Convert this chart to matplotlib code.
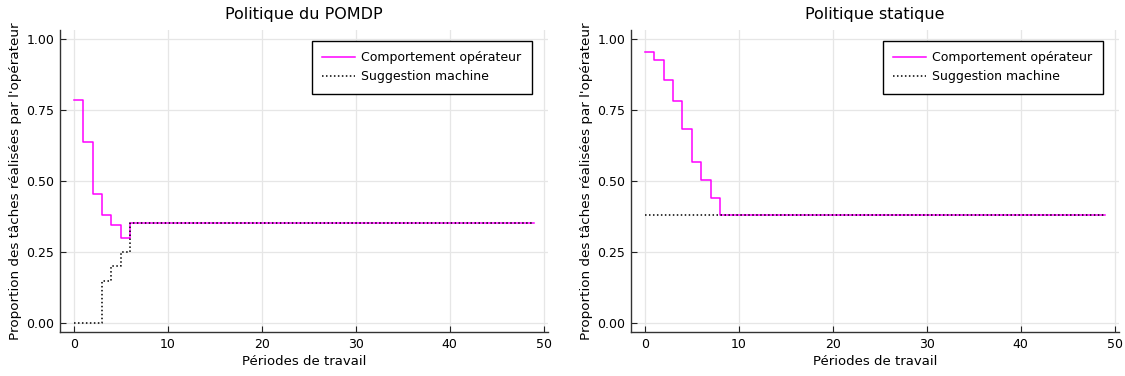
import numpy as np
import matplotlib
matplotlib.use("Agg")
from matplotlib import pyplot as plt

plt.rcParams['font.family'] = ['DejaVu Sans']

periods = np.arange(50)

# Politique du POMDP
pomdp_operateur = [0.786, 0.636, 0.453, 0.382, 0.347, 0.30] + [0.351] * 44
pomdp_machine = [0.0, 0.0, 0.0, 0.15, 0.20, 0.25] + [0.351] * 44

# Politique statique
stat_operateur = [0.952, 0.924, 0.853, 0.78, 0.682, 0.566, 0.503, 0.441] + [0.382] * 42
stat_machine = [0.382] * 50

titles = ['Politique du POMDP', 'Politique statique']
series = [(pomdp_operateur, pomdp_machine), (stat_operateur, stat_machine)]
yticks = [0.0, 0.25, 0.5, 0.75, 1.0]
xticks = [0, 10, 20, 30, 40, 50]

W, H = 1125, 376
fig = plt.figure(figsize=(W / 100, H / 100), dpi=100)
lefts = [60, 631]
ax_w, top, bottom = 488, 30, 332

for left, title, (op, mach) in zip(lefts, titles, series):
    ax = fig.add_axes([left / W, (H - bottom) / H, ax_w / W, (bottom - top) / H])
    ax.step(periods, op, where='post', color='#ff00ff', lw=1.1, label='Comportement opérateur')
    ax.step(periods, mach, where='post', color='black', lw=1.1, ls=(0, (1, 1.6)),
            label='Suggestion machine')
    ax.set_xlim(-1.47, 50.47)
    ax.set_ylim(-0.03, 1.03)
    ax.set_xticks(xticks)
    ax.set_yticks(yticks)
    ax.set_yticklabels([f'{v:.2f}' for v in yticks])
    ax.grid(True, color='#e6e6e6', lw=0.9)
    ax.set_axisbelow(True)
    for s in ['top', 'right']:
        ax.spines[s].set_visible(False)
    for s in ['left', 'bottom']:
        ax.spines[s].set_linewidth(1.0)
        ax.spines[s].set_color('#333333')
    ax.tick_params(direction='in', length=4, width=0.8, labelsize=9, colors='#222222',
                   labelcolor='black', pad=4)
    ax.set_title(title, fontsize=11.5, pad=8)
    ax.set_xlabel('Périodes de travail', fontsize=9.5, labelpad=3)
    ax.set_ylabel("Proportion des tâches réalisées par l'opérateur", fontsize=9.7, labelpad=3)
    leg = ax.legend(loc='upper right', bbox_to_anchor=(0.967, 0.964), borderaxespad=0,
                    fontsize=9, fancybox=False, framealpha=1, edgecolor='black',
                    handlelength=2.6, handletextpad=0.5, labelspacing=0.45, borderpad=0.85)
    leg.get_frame().set_linewidth(1.0)

fig.savefig('out.png', dpi=100)
